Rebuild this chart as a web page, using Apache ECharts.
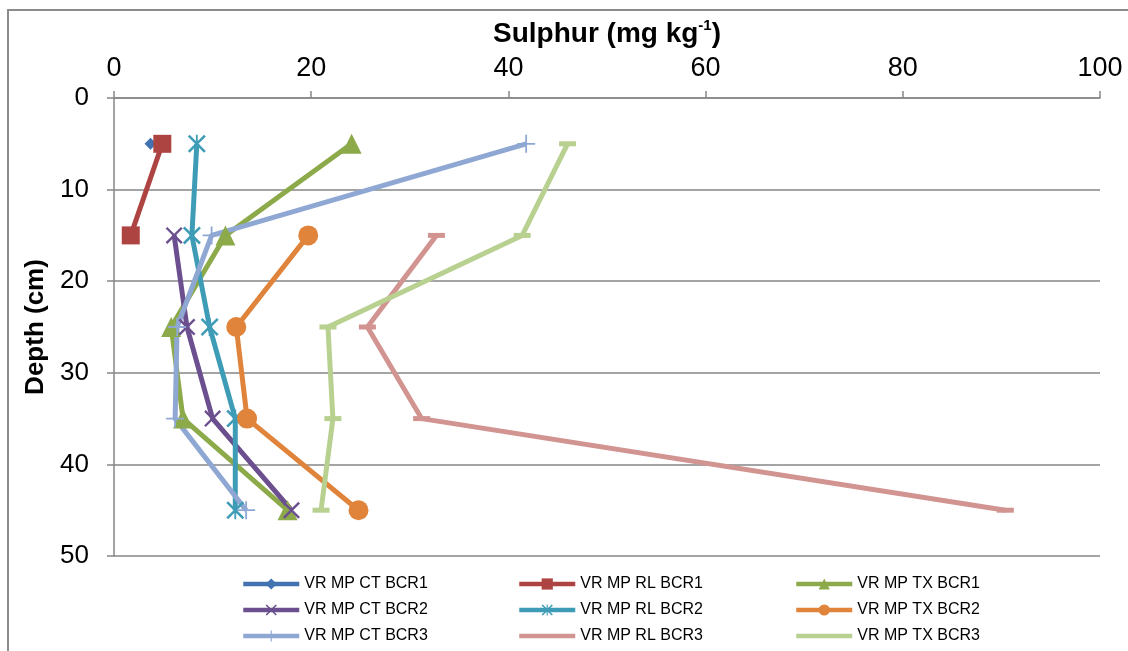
<!DOCTYPE html>
<html>
<head>
<meta charset="utf-8">
<style>
  html, body { margin: 0; padding: 0; background: #fff; }
  #chart { width: 1128px; height: 651px; }
</style>
<script src="https://cdn.jsdelivr.net/npm/echarts@6/dist/echarts.min.js"></script>
</head>
<body>
<div id="chart"></div>
<script>
// Sampling depths (cm)
const depths = [5, 15, 25, 35, 45];

// Sulphur (mg kg-1) per depth; null = no sample
const ctBcr1 = [3.7, null, null, null, null];
const rlBcr1 = [4.9, 1.7, null, null, null];
const txBcr1 = [24.1, 11.3, 5.8, 7.0, 17.6];
const ctBcr2 = [null, 6.1, 7.4, 10.0, 18.0];
const rlBcr2 = [8.4, 7.9, 9.7, 12.3, 12.3];
const txBcr2 = [null, 19.7, 12.4, 13.5, 24.8];
const ctBcr3 = [41.8, 9.9, 6.4, 6.2, 13.4];
const rlBcr3 = [null, 32.7, 25.7, 31.2, 90.4];
const txBcr3 = [46.0, 41.4, 21.7, 22.2, 21.0];

const xTicks = { min: 0, max: 100, interval: 20 };
const yTicks = { min: 0, max: 50, interval: 10 };

// Marker shapes
const X_BODY = 'M0,2 L2,0 L20,18 L18,20 Z M18,0 L20,2 L2,20 L0,18 Z';
const X_PATH = 'path://' + X_BODY;
const STAR_PATH = 'path://' + X_BODY + ' M9,0 L11,0 L11,20 L9,20 Z';
const PLUS_PATH = 'path://M0,9 L20,9 L20,11 L0,11 Z M9,0 L11,0 L11,20 L9,20 Z';

const seriesDefs = [
  { name: 'VR MP CT BCR1', values: ctBcr1, color: '#4272B0', symbol: 'diamond', size: 12 },
  { name: 'VR MP RL BCR1', values: rlBcr1, color: '#AE4441', symbol: 'rect', size: 18 },
  { name: 'VR MP TX BCR1', values: txBcr1, color: '#8DAA4B', symbol: 'triangle', size: 20 },
  { name: 'VR MP CT BCR2', values: ctBcr2, color: '#6B4F8E', symbol: X_PATH, size: 17 },
  { name: 'VR MP RL BCR2', values: rlBcr2, color: '#3F9CB7', symbol: STAR_PATH, size: 18 },
  { name: 'VR MP TX BCR2', values: txBcr2, color: '#E0843B', symbol: 'circle', size: 20 },
  { name: 'VR MP CT BCR3', values: ctBcr3, color: '#8FA8D3', symbol: PLUS_PATH, size: 18 },
  { name: 'VR MP RL BCR3', values: rlBcr3, color: '#D29491', symbol: 'rect', size: [17, 5], dash: true },
  { name: 'VR MP TX BCR3', values: txBcr3, color: '#B8D090', symbol: 'rect', size: [17, 5], dash: true }
];

const series = seriesDefs.map(d => ({
  name: d.name,
  type: 'line',
  data: depths.map((dep, i) => d.values[i] == null ? null : [d.values[i], dep]).filter(p => p),
  symbol: d.symbol,
  symbolSize: d.size,
  showAllSymbol: true,
  lineStyle: { color: d.color, width: 5 },
  itemStyle: { color: d.color, borderWidth: 0 },
  emphasis: { disabled: true },
  animation: false
}));

const gridLeft = 114, gridTop = 98, gridRight = 28, gridBottom = 95;
const FONT = 'Liberation Sans, Arial, sans-serif';
const legendFont = { fontFamily: FONT, fontSize: 16, color: '#000', lineHeight: 14 };

function column(left, names) {
  return {
    orient: 'vertical',
    left: left,
    top: 576,
    height: 75,
    itemWidth: 56,
    itemHeight: 14,
    itemGap: 10,
    padding: 0,
    selectedMode: false,
    textStyle: legendFont,
    lineStyle: { width: 4.5 },
    data: names.map(n => {
      const def = seriesDefs.find(d => d.name === n);
      return def.dash ? { name: n, itemStyle: { opacity: 0 } } : { name: n };
    })
  };
}

const option = {
  backgroundColor: '#fff',
  animation: false,
  graphic: [{
    type: 'rect',
    shape: { x: 8, y: 10, width: 1300, height: 900 },
    style: { fill: null, stroke: '#8C8C8C', lineWidth: 2 },
    silent: true
  }],
  grid: { left: gridLeft, top: gridTop, right: gridRight, bottom: gridBottom },
  legend: [
    column(241, ['VR MP CT BCR1', 'VR MP CT BCR2', 'VR MP CT BCR3']),
    column(517, ['VR MP RL BCR1', 'VR MP RL BCR2', 'VR MP RL BCR3']),
    column(794, ['VR MP TX BCR1', 'VR MP TX BCR2', 'VR MP TX BCR3'])
  ],
  xAxis: {
    type: 'value',
    position: 'top',
    min: xTicks.min, max: xTicks.max, interval: xTicks.interval,
    name: '{a|Sulphur (mg kg}{s|-1}{a|)}',
    nameLocation: 'middle',
    nameGap: 48,
    nameTextStyle: {
      rich: {
        a: { fontFamily: FONT, fontSize: 28, fontWeight: 'bold', color: '#000', lineHeight: 32 },
        s: { fontFamily: FONT, fontSize: 15, fontWeight: 'bold', color: '#000', lineHeight: 20, verticalAlign: 'top' }
      }
    },
    axisLine: { show: true, lineStyle: { color: '#868686', width: 1.5 } },
    axisTick: { show: true, length: 7, lineStyle: { color: '#868686', width: 1.5 } },
    axisLabel: { margin: 16, fontFamily: FONT, fontSize: 27, color: '#000' },
    splitLine: { show: false }
  },
  yAxis: {
    type: 'value',
    inverse: true,
    min: yTicks.min, max: yTicks.max, interval: yTicks.interval,
    name: 'Depth (cm)',
    nameLocation: 'middle',
    nameGap: 63,
    nameTextStyle: { fontFamily: FONT, fontSize: 26, fontWeight: 'bold', color: '#000' },
    axisLine: { show: true, lineStyle: { color: '#868686', width: 1.5 } },
    axisTick: { show: true, length: 7, lineStyle: { color: '#868686', width: 1.5 } },
    axisLabel: { margin: 25, fontFamily: FONT, fontSize: 26, color: '#000' },
    splitLine: { show: true, lineStyle: { color: '#868686', width: 1.5 } }
  },
  series: series
};

const chart = echarts.init(document.getElementById('chart'), null, { renderer: 'canvas' });
chart.setOption(option);
</script>
</body>
</html>
